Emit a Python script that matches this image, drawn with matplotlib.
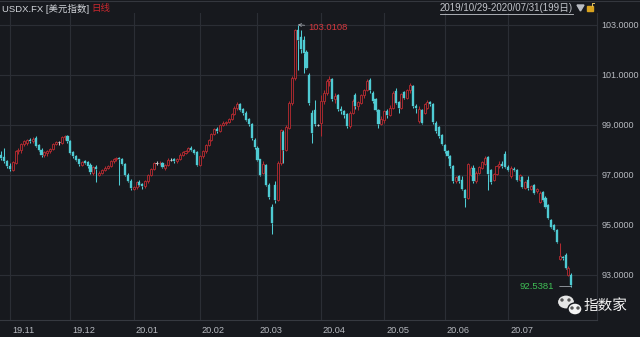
import numpy as np
import pandas as pd
import matplotlib
matplotlib.use('Agg')
import matplotlib.pyplot as plt
from matplotlib.patches import Ellipse, Rectangle, Polygon
from matplotlib.transforms import ScaledTranslation
from matplotlib.lines import Line2D

plt.rcParams['font.family'] = ['Liberation Sans', 'Noto Sans CJK SC', 'DejaVu Sans']

# 美元指数日线 2019/10/29 - 2020/07/31
opens = [97.80, 97.72, 97.55, 97.38, 97.22, 97.50, 97.95, 98.00, 98.25, 98.30,
         98.40, 98.38, 98.48, 98.20, 98.00, 97.80, 97.88, 97.95, 98.05, 98.25,
         98.32, 98.30, 98.52, 98.55, 98.35, 97.90, 97.78, 97.62, 97.40, 97.55,
         97.50, 97.40, 97.10, 97.32, 97.02, 97.10, 97.20, 97.30, 97.38, 97.55,
         97.65, 97.68, 97.62, 97.45, 97.02, 96.78, 96.45, 96.52, 96.72, 96.62,
         96.55, 96.75, 97.00, 97.25, 97.48, 97.48, 97.48, 97.30, 97.40, 97.62,
         97.62, 97.55, 97.65, 97.82, 97.90, 97.98, 98.08, 98.02, 97.90, 97.42,
         97.75, 97.95, 98.20, 98.42, 98.65, 98.85, 98.78, 99.00, 99.10, 99.12,
         99.25, 99.45, 99.70, 99.85, 99.62, 99.48, 99.22, 99.05, 98.42, 98.10,
         97.62, 97.10, 97.40, 96.62, 95.72, 96.60, 96.02, 97.50, 98.70, 98.02,
         98.90, 99.90, 100.90, 102.80, 102.50, 102.40, 101.90, 101.00, 99.50, 99.60,
         99.00, 99.10, 99.95, 100.30, 100.75, 100.85, 100.05, 100.20, 99.65, 99.55,
         99.45, 98.95, 99.50, 100.20, 99.75, 99.90, 100.20, 100.40, 100.80, 100.30,
         100.05, 99.60, 99.05, 99.20, 99.55, 99.40, 99.70, 100.35, 99.90, 99.70,
         100.30, 100.10, 100.40, 100.55, 99.75, 99.15, 99.60, 99.50, 99.70, 99.90,
         99.85, 99.10, 98.90, 98.60, 98.20, 97.95, 97.75, 97.35, 96.75, 96.95,
         96.80, 96.40, 96.10, 97.00, 97.30, 96.75, 97.10, 97.30, 97.45, 97.70,
         97.20, 96.80, 97.05, 97.35, 97.45, 97.85, 97.32, 96.95, 97.25, 97.20,
         96.80, 96.92, 96.50, 96.80, 96.45, 96.60, 96.35, 95.92, 96.30, 96.10,
         95.80, 95.20, 95.00, 94.80, 93.65, 93.72, 93.80, 93.02, 93.00]
highs = [97.95, 98.08, 97.62, 97.48, 97.55, 98.00, 98.10, 98.30, 98.42, 98.45,
         98.48, 98.52, 98.55, 98.25, 98.08, 97.95, 98.00, 98.10, 98.30, 98.38,
         98.38, 98.58, 98.60, 98.62, 98.40, 97.95, 97.82, 97.66, 97.58, 97.62,
         97.55, 97.48, 97.35, 97.40, 97.15, 97.25, 97.35, 97.42, 97.60, 97.68,
         97.72, 97.72, 97.70, 97.50, 97.08, 96.85, 96.55, 96.78, 96.80, 96.68,
         96.80, 97.05, 97.30, 97.52, 97.55, 97.55, 97.52, 97.45, 97.68, 97.68,
         97.68, 97.70, 97.88, 97.95, 98.02, 98.12, 98.15, 98.05, 97.95, 97.80,
         98.00, 98.25, 98.45, 98.70, 98.90, 98.92, 99.05, 99.15, 99.18, 99.30,
         99.50, 99.75, 99.92, 99.90, 99.70, 99.55, 99.28, 99.10, 98.48, 98.15,
         97.65, 97.55, 97.45, 96.70, 95.85, 96.75, 97.55, 98.85, 98.80, 99.00,
         99.95, 100.95, 102.85, 103.0108, 102.80, 102.55, 102.00, 101.10, 99.60, 100.00,
         99.05, 100.20, 100.40, 100.85, 100.95, 100.90, 100.30, 100.25, 99.75, 99.60,
         99.50, 99.55, 100.05, 100.30, 99.95, 100.25, 100.45, 100.85, 100.90, 100.35,
         100.10, 99.65, 99.35, 99.62, 99.65, 99.80, 100.35, 100.50, 99.95, 100.30,
         100.35, 100.45, 100.70, 100.60, 99.85, 99.75, 99.65, 99.90, 100.00, 99.95,
         99.90, 99.15, 98.95, 98.65, 98.25, 98.00, 97.80, 97.40, 96.95, 97.00,
         96.95, 96.45, 97.50, 97.35, 97.40, 97.15, 97.35, 97.55, 97.75, 97.75,
         97.25, 97.10, 97.40, 97.55, 97.55, 97.95, 97.40, 97.35, 97.32, 97.25,
         97.05, 96.98, 96.75, 96.95, 96.60, 96.65, 96.50, 96.35, 96.35, 96.15,
         95.85, 95.25, 95.05, 94.85, 94.30, 93.78, 93.88, 93.35, 93.08]
lows = [97.62, 97.50, 97.28, 97.15, 97.15, 97.45, 97.85, 97.90, 98.15, 98.20,
        98.28, 98.30, 98.12, 97.95, 97.72, 97.74, 97.78, 97.88, 98.00, 98.20,
        98.22, 98.25, 98.40, 98.28, 97.85, 97.70, 97.55, 97.38, 97.35, 97.45,
        97.30, 97.05, 97.00, 96.72, 96.98, 97.05, 97.15, 97.25, 97.32, 97.50,
        97.58, 96.62, 97.40, 96.95, 96.72, 96.40, 96.40, 96.45, 96.55, 96.45,
        96.50, 96.70, 96.95, 97.20, 97.42, 97.40, 97.28, 97.22, 97.35, 97.58,
        97.50, 97.50, 97.60, 97.75, 97.85, 97.92, 97.98, 97.85, 97.35, 97.38,
        97.70, 97.90, 98.15, 98.38, 98.60, 98.70, 98.72, 98.95, 99.02, 99.08,
        99.20, 99.40, 99.62, 99.55, 99.40, 99.15, 98.98, 98.42, 98.05, 97.55,
        96.95, 97.05, 96.55, 96.05, 94.65, 95.90, 95.95, 97.40, 97.50, 97.95,
        98.85, 99.80, 100.80, 101.20, 101.90, 101.10, 101.25, 99.80, 98.30, 98.95,
        98.95, 98.55, 99.85, 100.20, 100.55, 99.95, 99.90, 99.55, 99.45, 99.30,
        98.90, 98.90, 99.45, 99.65, 99.60, 99.85, 100.10, 100.35, 100.30, 99.90,
        99.55, 98.90, 99.00, 99.10, 99.30, 99.35, 99.65, 99.85, 99.50, 99.65,
        100.05, 100.05, 100.30, 99.70, 99.50, 99.10, 99.05, 99.45, 99.65, 99.75,
        99.05, 98.70, 98.50, 98.20, 97.90, 97.70, 97.30, 96.70, 96.70, 96.70,
        96.40, 95.72, 96.05, 96.95, 96.70, 96.70, 97.05, 97.25, 97.40, 96.40,
        96.65, 96.75, 97.00, 97.30, 97.30, 97.28, 97.18, 96.90, 97.15, 96.78,
        96.75, 96.48, 96.45, 96.42, 96.40, 96.25, 96.30, 95.88, 95.98, 95.68,
        95.25, 94.88, 94.75, 94.28, 93.60, 93.62, 93.25, 92.98, 92.5381]
closes = [97.70, 97.55, 97.35, 97.25, 97.50, 97.95, 98.00, 98.25, 98.35, 98.40,
          98.38, 98.45, 98.18, 98.02, 97.80, 97.90, 97.95, 98.05, 98.25, 98.32,
          98.32, 98.52, 98.55, 98.35, 97.90, 97.78, 97.62, 97.45, 97.52, 97.50,
          97.35, 97.12, 97.30, 97.25, 97.10, 97.20, 97.30, 97.38, 97.55, 97.65,
          97.68, 97.65, 97.45, 97.02, 96.78, 96.48, 96.52, 96.72, 96.62, 96.55,
          96.75, 97.00, 97.25, 97.48, 97.48, 97.50, 97.32, 97.40, 97.62, 97.62,
          97.55, 97.65, 97.82, 97.90, 97.98, 98.08, 98.02, 97.90, 97.42, 97.75,
          97.95, 98.20, 98.42, 98.65, 98.85, 98.78, 99.00, 99.10, 99.12, 99.25,
          99.45, 99.70, 99.85, 99.62, 99.48, 99.22, 99.05, 98.50, 98.12, 97.62,
          97.02, 97.45, 96.62, 96.12, 95.08, 96.00, 97.48, 98.78, 98.02, 98.90,
          99.90, 100.90, 102.80, 102.40, 102.05, 101.90, 101.30, 99.90, 98.70, 99.05,
          99.00, 99.95, 100.30, 100.75, 100.85, 100.05, 100.15, 99.65, 99.55, 99.40,
          98.95, 99.50, 99.95, 99.75, 99.90, 100.20, 100.40, 100.75, 100.40, 99.95,
          99.60, 99.05, 99.25, 99.55, 99.40, 99.70, 100.30, 99.90, 99.70, 100.25,
          100.10, 100.40, 100.60, 99.75, 99.70, 99.65, 99.10, 99.85, 99.90, 99.85,
          99.12, 98.75, 98.55, 98.25, 97.95, 97.75, 97.35, 96.75, 96.90, 96.75,
          96.45, 96.10, 97.45, 97.30, 96.75, 97.10, 97.30, 97.50, 97.70, 97.05,
          96.72, 97.05, 97.35, 97.45, 97.38, 97.32, 97.22, 97.30, 97.20, 96.82,
          97.00, 96.52, 96.70, 96.50, 96.55, 96.30, 96.45, 96.30, 96.02, 95.72,
          95.30, 94.92, 94.80, 94.32, 93.75, 93.68, 93.30, 93.30, 92.62]

month_labels = ['19.11', '19.12', '20.01', '20.02', '20.03', '20.04', '20.05', '20.06', '20.07']
price_ticks = [93, 95, 97, 99, 101, 103]
title_left = 'USDX.FX [美元指数]'
title_kind = '日线'

BG = '#17191e'
GRID = '#2b2e35'
RED = '#b02a30'
CYAN = '#4fcbd3'
FLAT = '#c9cbcf'
TXT = '#b7bac0'

W, H = 640, 337
dates = pd.bdate_range('2019-10-29', '2020-07-31')
o = np.array(opens)
h = np.array(highs)
l = np.array(lows)
c = np.array(closes)
x = np.arange(len(c))

months = pd.Series(dates.to_period('M'))
month_pos = list(np.where(months.ne(months.shift()).values)[0][1:])

fig = plt.figure(figsize=(W / 100, H / 100), dpi=100, facecolor=BG)
ax = fig.add_axes([0, 17 / H, 597 / W, 307 / H])
ax.set_facecolor(BG)

# candles: red hollow = up, cyan filled = down, grey cross = flat
up = c > o
down = c < o
flat = c == o
top = np.maximum(o, c)
bot = np.minimum(o, c)
cols = np.where(up, RED, np.where(down, CYAN, FLAT))
ax.vlines(x, top, h, colors=cols, lw=0.75, zorder=3)
ax.vlines(x, l, bot, colors=cols, lw=0.75, zorder=3)
ax.bar(x[up], (top - bot)[up], bottom=bot[up], width=0.7, facecolor=BG,
       edgecolor=RED, linewidth=0.65, zorder=4)
ax.bar(x[down], (top - bot)[down], bottom=bot[down], width=0.74, facecolor=CYAN,
       edgecolor=CYAN, linewidth=0.25, zorder=4)
ax.hlines(c[flat], x[flat] - 0.45, x[flat] + 0.45, colors=FLAT, lw=0.7, zorder=4)

ax.set_xlim(-0.42, 206.9)
ax.set_ylim(91.2, 103.48)

# axes / grid
ax.yaxis.tick_right()
ax.set_yticks(price_ticks)
ax.set_yticklabels([f'{v:.4f}' for v in price_ticks])
ax.set_xticks(month_pos)
ax.set_xticklabels(month_labels, ha='left')
ax.tick_params(axis='y', length=0, pad=3, labelsize=6.5, labelcolor=TXT)
ax.tick_params(axis='x', length=0, pad=4, labelsize=6.6, labelcolor=TXT)
for lab in ax.get_xticklabels():
    lab.set_transform(lab.get_transform() + ScaledTranslation(2 / 100, 0, fig.dpi_scale_trans))
ax.grid(True, color=GRID, lw=0.8)
ax.set_axisbelow(True)
for side in ['top', 'left']:
    ax.spines[side].set_visible(False)
ax.spines['right'].set_color(GRID)
ax.spines['bottom'].set_color('#363940')

# max / min markers
imax = int(np.argmax(h))
ax.annotate(f'{h[imax]:.4f}', xy=(imax, h[imax]), xytext=(imax + 3.8, h[imax] - 0.1),
            color='#d3383e', fontsize=6.8, ha='left', va='center',
            arrowprops=dict(arrowstyle='->', color='#9ea3aa', lw=0.6,
                            shrinkA=1, shrinkB=0, mutation_scale=5))
imin = int(np.argmin(l))
ax.annotate(f'{l[imin]:.4f}', xy=(imin, l[imin]), xytext=(imin - 6.0, l[imin]),
            color='#3fbf55', fontsize=6.8, ha='right', va='center',
            arrowprops=dict(arrowstyle='-', color='#9ea3aa', lw=0.6,
                            shrinkA=2, shrinkB=0))

# header
fig.add_artist(Line2D([0, 1], [1 - 0.6 / H] * 2, color='#34373e', lw=0.8))
t1 = fig.text(2 / W, 1 - 9 / H, title_left, color='#d2d5da', fontsize=6.8,
              ha='left', va='center')
fig.canvas.draw()
bb = t1.get_window_extent()
fig.text((bb.x1 + 2) / W, 1 - 9 / H, title_kind, color='#c9282e', fontsize=6.8,
         ha='left', va='center')
span_txt = f'{dates[0]:%Y/%m/%d}-{dates[-1]:%Y/%m/%d}({len(dates)}日)'
t2 = fig.text(573 / W, 1 - 8 / H, span_txt, color='#c3c6cc', fontsize=7,
              ha='right', va='center')
fig.canvas.draw()
bb2 = t2.get_window_extent()
fig.add_artist(Line2D([bb2.x0 / W, bb2.x1 / W], [(bb2.y0 - 0.5) / H] * 2,
                      color='#c3c6cc', lw=0.6))
fig.add_artist(Polygon([(577 / W, 1 - 5 / H), (584 / W, 1 - 5 / H), (580.5 / W, 1 - 11 / H)],
                       closed=True, color='#b9bcc2'))
fig.add_artist(Rectangle((587 / W, 1 - 11 / H), 6 / W, 5 / H, color='#d8a21e'))
fig.add_artist(Line2D([592 / W, 592 / W, 594 / W], [1 - 6 / H, 1 - 3 / H, 1 - 3 / H],
                      color='#e2c060', lw=0.7))

# watermark
fig.add_artist(Ellipse((566 / W, 1 - 302 / H), 17 / W, 14 / H, facecolor='#e6e6e6',
                       edgecolor=BG, lw=0.8))
fig.add_artist(Ellipse((575 / W, 1 - 309 / H), 14 / W, 12 / H, facecolor='#f2f2f2',
                       edgecolor=BG, lw=1.0))
for ex, ey in [(562, 300), (569, 300), (572, 308), (578, 308)]:
    fig.add_artist(Ellipse((ex / W, 1 - ey / H), 2 / W, 2 / H, color='#555'))
fig.text(584 / W, 1 - 306 / H, '指数家', color='#f2f2f2', fontsize=10.5,
         family=['Noto Sans CJK SC'], ha='left', va='center')

fig.savefig('out.png', dpi=100, facecolor=BG)
